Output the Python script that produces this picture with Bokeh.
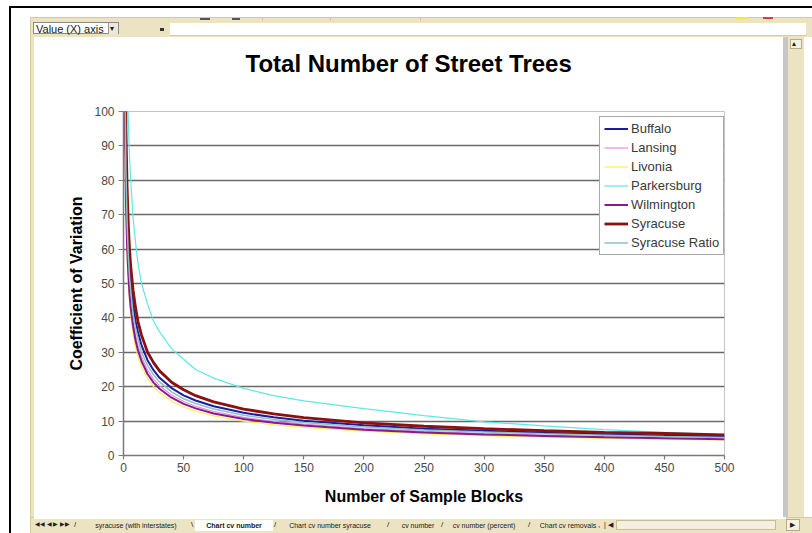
from bokeh.plotting import figure
from bokeh.models import Range1d, Legend, LegendItem, FixedTicker, Div
from bokeh.layouts import column, row
from bokeh.embed import file_html
from bokeh.resources import INLINE

# Number of sample blocks (x) and coefficient of variation per city
n = [1, 2, 3, 4, 5, 6, 8, 10, 12, 15, 20, 25, 30, 40, 50, 60, 75, 100, 125, 150,
     200, 250, 300, 350, 400, 450, 500]
buffalo = [124, 88, 72, 62, 55, 51, 44, 39, 36, 32, 27.7, 24.8, 22.6, 19.6, 17.5, 16.0,
           14.3, 12.4, 11.1, 10.1, 8.8, 7.8, 7.2, 6.6, 6.2, 5.8, 5.5]
lansing = [111, 78, 64, 55, 50, 45, 39, 35, 32, 28.7, 24.8, 22.2, 20.3, 17.6, 15.7, 14.3,
           12.8, 11.1, 9.9, 9.1, 7.8, 7.0, 6.4, 5.9, 5.5, 5.2, 5.0]
livonia = [100, 71, 58, 50, 45, 41, 35, 31.6, 28.9, 25.8, 22.4, 20.0, 18.3, 15.8, 14.1, 12.9,
           11.5, 10.0, 8.9, 8.2, 7.1, 6.3, 5.8, 5.3, 5.0, 4.7, 4.5]
parkersburg = [195, 138, 113, 97, 87, 80, 69, 62, 56, 50, 44, 39, 36, 31, 28, 25, 22.5,
               19.5, 17.4, 15.9, 13.6, 11.6, 9.8, 8.6, 7.5, 6.7, 6.0]
wilmington = [106, 75, 61, 53, 47, 43, 37.5, 33.5, 30.6, 27.4, 23.7, 21.2, 19.4, 16.8, 15.0,
              13.7, 12.2, 10.6, 9.5, 8.7, 7.5, 6.7, 6.1, 5.7, 5.3, 5.0, 4.7]
syracuse = [135, 95, 78, 67, 60, 55, 48, 43, 39, 35, 30, 27, 24.6, 21.3, 19.1, 17.4, 15.6,
            13.5, 12.1, 11.0, 9.5, 8.5, 7.8, 7.2, 6.75, 6.4, 6.0]
syracuse_ratio = [117, 83, 68, 58, 52, 48, 41, 37, 34, 30, 26.2, 23.4, 21.4, 18.5, 16.5, 15.1,
                  13.5, 11.7, 10.5, 9.6, 8.3, 7.4, 6.8, 6.3, 5.9, 5.5, 5.2]

series_names = ["Buffalo", "Lansing", "Livonia", "Parkersburg", "Wilmington",
                "Syracuse", "Syracuse Ratio"]
series_values = [buffalo, lansing, livonia, parkersburg, wilmington, syracuse, syracuse_ratio]
series_colors = ["#1c1c9c", "#e68ae6", "#f2f25a", "#5ee8e8", "#8a1a8a", "#8b1010", "#8cc4c4"]
series_widths = [2, 1.2, 1.2, 1.2, 2, 2.8, 1.5]

x_ticks = [0, 50, 100, 150, 200, 250, 300, 350, 400, 450, 500]
y_ticks = [0, 10, 20, 30, 40, 50, 60, 70, 80, 90, 100]

sheet_tabs = ["syracuse (with interstates)", "Chart cv number", "Chart cv number syracuse",
              "cv number", "cv number (percent)", "Chart cv removals"]

FONT = "Liberation Sans"

p = figure(width=749, height=480, output_backend="svg", toolbar_location=None,
           x_range=Range1d(0, 500), y_range=Range1d(0, 100),
           min_border_left=89, min_border_right=59, min_border_top=74, min_border_bottom=62,
           background_fill_color="white", border_fill_color="white",
           title="Total Number of Street Trees\n ")

p.title.text_font = FONT
p.title.text_font_size = "24px"
p.title.text_font_style = "bold"
p.title.text_color = "#000000"
p.title.align = "left"
p.title.offset = 122
p.title.vertical_align = "bottom"
p.title.standoff = 16

p.outline_line_color = "#c4c4c4"
p.outline_line_width = 1

p.xgrid.visible = False
p.ygrid.ticker = FixedTicker(ticks=y_ticks[1:-1])
p.ygrid.grid_line_color = "#6a6a6a"
p.ygrid.grid_line_width = 1.4

for ax in (p.xaxis, p.yaxis):
    ax.axis_line_color = "#7a7a7a"
    ax.axis_line_width = 1.5
    ax.major_tick_line_color = "#7a7a7a"
    ax.major_tick_line_width = 1.2
    ax.major_tick_in = 0
    ax.minor_tick_line_color = None
    ax.major_label_text_font = FONT
    ax.major_label_text_font_size = "12px"
    ax.major_label_text_color = "#4a4a4a"
    ax.axis_label_text_font = FONT
    ax.axis_label_text_font_size = "16px"
    ax.axis_label_text_font_style = "bold"
    ax.axis_label_text_color = "#000000"

p.xaxis.ticker = FixedTicker(ticks=x_ticks)
p.yaxis.ticker = FixedTicker(ticks=y_ticks)
p.xaxis.major_tick_out = 4
p.yaxis.major_tick_out = 5
p.xaxis.major_label_standoff = 3
p.yaxis.major_label_standoff = 4
p.xaxis.axis_label = "Number of Sample Blocks"
p.yaxis.axis_label = "Coefficient of Variation"
p.xaxis.axis_label_standoff = 13
p.yaxis.axis_label_standoff = 6

items = []
for name, vals, col, w in zip(series_names, series_values, series_colors, series_widths):
    r = p.line(n, vals, line_color=col, line_width=w)
    items.append(LegendItem(label=name, renderers=[r]))

legend = Legend(items=items, location=(476, 200))
legend.label_text_font = FONT
legend.label_text_font_size = "13px"
legend.label_text_color = "#3a3a3a"
legend.label_height = 15
legend.glyph_height = 15
legend.glyph_width = 24
legend.label_standoff = 3
legend.spacing = 4
legend.padding = 4
legend.margin = 0
legend.border_line_color = "#555555"
legend.border_line_width = 1
legend.background_fill_color = "white"
legend.background_fill_alpha = 1
p.add_layout(legend, "center")

# ---- Spreadsheet window chrome (HTML around the chart) ----
BEIGE = "#ece3c2"
EDGE = "#d6ca9c"
FF = "'Liberation Sans', Arial, sans-serif"


def blk(l, t, w, h, bg, extra=""):
    return (f'<div style="position:absolute;left:{l}px;top:{t}px;width:{w}px;'
            f'height:{h}px;background:{bg};{extra}"></div>')


def txt(l, t, s, size, extra=""):
    return (f'<div style="position:absolute;left:{l}px;top:{t}px;font-family:{FF};'
            f'font-size:{size}px;line-height:1;white-space:nowrap;color:#202020;{extra}">{s}</div>')


def wrap(w, h, inner):
    return (f'<div style="position:relative;width:{w}px;height:{h}px;overflow:hidden;'
            f'background:#ffffff;margin:0;padding:0">{inner}</div>')


top_html = wrap(812, 37, "".join([
    blk(9, 6, 803, 2, "#000"),
    blk(9, 6, 2, 31, "#000"),
    blk(30, 17, 782, 20, BEIGE, f"border-top:1px solid {EDGE};border-left:1px solid {EDGE}"),
    blk(200, 18, 10, 2, "#555"), blk(232, 18, 8, 2, "#555"),
    blk(262, 18, 1, 3, EDGE), blk(330, 18, 1, 3, EDGE), blk(420, 18, 1, 3, EDGE),
    blk(736, 17, 12, 2, "#f2ea3c"), blk(763, 17, 10, 2, "#d83c3c"),
    blk(33, 22, 86, 12, "#fff", "border:1px solid #8a8a8a"),
    txt(36, 24, "Value (X) axis", 11),
    blk(108, 23, 10, 11, "#ece9d8", "border-left:1px solid #999"),
    txt(110, 25, "&#9662;", 8),
    blk(160, 28, 4, 3, "#333"),
    blk(170, 23, 636, 13, "#fff", f"border-bottom:1px solid {EDGE}"),
]))

left_html = wrap(34, 480, "".join([
    blk(9, 0, 2, 480, "#000"),
    blk(30, 0, 4, 480, BEIGE, f"border-left:1px solid {EDGE}"),
]))

right_html = wrap(29, 480, "".join([
    blk(0, 0, 5, 480, "#c6c6c6"),
    blk(5, 0, 16, 480, BEIGE),
    blk(7, 2, 12, 10, "#f6f2e2", "border:1px solid #b8ab80"),
    txt(9, 3, "&#9652;", 8),
]))

tab_centers = [136, 234, 330, 418, 484, 568]
sep_pos = [(74, "/"), (191, "\\"), (274, "/"), (387, "/"), (441, "/"), (528, "/"), (598, ",")]
tab_parts = [
    blk(9, 0, 2, 16, "#000"),
    blk(30, 0, 782, 16, BEIGE, f"border-left:1px solid {EDGE};border-top:1px solid {EDGE}"),
    blk(34, 0, 752, 2, "#fff"),
    txt(35, 4, "&#9664;&#9664; &#9664; &#9654; &#9654;&#9654;", 6),
    blk(195, 3, 78, 11, "#fff"),
    txt(604, 4, "| &#9664;", 7),
    blk(616, 3, 160, 10, "#f4f0e0", "border:1px solid #c8bc90"),
    blk(786, 2, 14, 12, "#f6f2e2", "border:1px solid #b8ab80"),
    txt(790, 4, "&#9654;", 7),
]
for name, cx in zip(sheet_tabs, tab_centers):
    weight = "bold" if name == "Chart cv number" else "normal"
    tab_parts.append(txt(cx - 50, 5, name, 7,
                         f"width:100px;text-align:center;font-weight:{weight}"))
for x, ch in sep_pos:
    tab_parts.append(txt(x, 4, ch, 8))
bottom_html = wrap(812, 16, "".join(tab_parts))

top = Div(text=top_html, width=812, height=37, margin=0)
left = Div(text=left_html, width=34, height=480, margin=0)
right = Div(text=right_html, width=29, height=480, margin=0)
bottom = Div(text=bottom_html, width=812, height=16, margin=0)
p.margin = 0

layout = column(top, row(left, p, right, spacing=0, margin=0), bottom, spacing=0, margin=0)

open("out.html", "w").write(file_html(layout, INLINE))
